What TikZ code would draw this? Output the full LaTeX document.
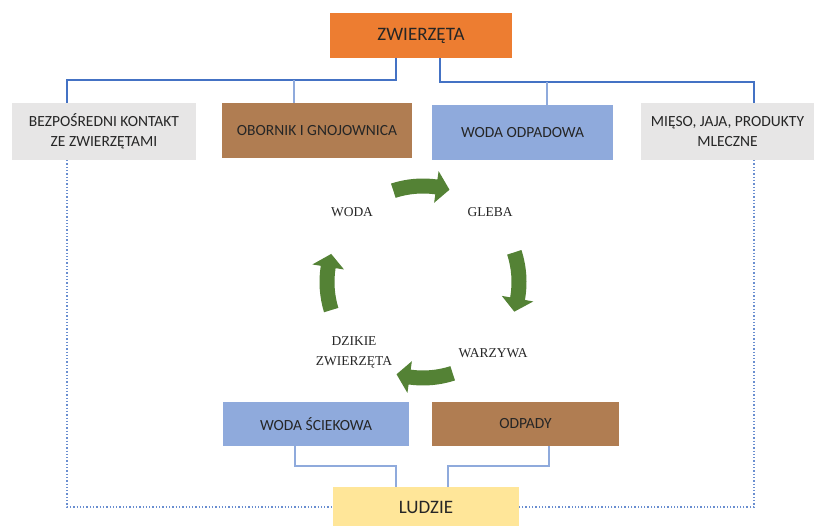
\documentclass[tikz,border=0pt]{standalone}
\usepackage{fontspec}
\setmainfont{Carlito}
\newfontfamily\cycfont{Liberation Serif}
\definecolor{zworange}{HTML}{ED7D31}
\definecolor{zwbrown}{HTML}{B07D52}
\definecolor{zwgray}{HTML}{E7E6E6}
\definecolor{zwblue}{HTML}{8FAADC}
\definecolor{zwyellow}{HTML}{FFE699}
\definecolor{zwgreen}{HTML}{548235}
\definecolor{zwline}{HTML}{4472C4}
\definecolor{zwtext}{HTML}{262626}
\newcommand\cycarrow[2]{%
  \fill[zwgreen,shift={(C)}] (#1:103.5) arc[start angle=#1,end angle=#2-8,radius=103.5]
    -- (#2-8:112) -- (#2:96) -- (#2-8:80) -- (#2-8:88.5)
    arc[start angle=#2-8,end angle=#1,radius=88.5] -- cycle;}
\begin{document}
\begin{tikzpicture}[x=1pt,y=-1pt,
  box/.style={inner sep=0pt, align=center, text=zwtext, font=\fontsize{15.5}{20}\selectfont},
  bigbox/.style={box, font=\fontsize{19}{22}\selectfont},
  cyc/.style={inner sep=0pt, align=center, text=zwtext, font=\cycfont\fontsize{13.5}{20}\selectfont},
  mainline/.style={draw=zwline, line width=2.2pt},
  branch/.style={draw=zwblue, line width=1.6pt},
  dotline/.style={draw=zwline!80, line width=1.3pt, dotted}]
\useasboundingbox (0,0) rectangle (814,526);
\fill[white] (0,0) rectangle (814,526);
% top
\node[bigbox, fill=zworange, minimum width=182, minimum height=45] (zw) at (421,35.5) {ZWIERZĘTA};
\node[box, fill=zwgray, minimum width=184, minimum height=57] (bez) at (104,131.5) {BEZPOŚREDNI KONTAKT\\ZE ZWIERZĘTAMI};
\node[box, fill=zwbrown, minimum width=190, minimum height=55] (obornik) at (317,130.5) {OBORNIK I GNOJOWNICA};
\node[box, fill=zwblue, minimum width=181, minimum height=55] (woda) at (522.5,132.5) {WODA ODPADOWA};
\node[box, fill=zwgray, minimum width=173, minimum height=57] (mieso) at (727.5,131.5) {MIĘSO, JAJA, PRODUKTY\\MLECZNE};
% bottom
\node[box, fill=zwblue, minimum width=186, minimum height=44] (wsciek) at (316,424) {WODA ŚCIEKOWA};
\node[box, fill=zwbrown, minimum width=187, minimum height=44] (odpady) at (525.5,424) {ODPADY};
\node[bigbox, fill=zwyellow, minimum width=186, minimum height=40] (ludzie) at (426,507) {LUDZIE};
% connectors top
\draw[mainline] ([xshift=-25]zw.south) -- ++(0,22) -| ([xshift=-37]bez.north);
\draw[branch] ([xshift=-23]obornik.north) -- ++(0,-23);
\draw[mainline] ([xshift=19]zw.south) -- ++(0,24) -| ([xshift=26.5]mieso.north);
\draw[branch] ([xshift=24.5]woda.north) -- ++(0,-23);
% dotted
\draw[dotline] ([xshift=-37]bez.south) |- (ludzie.west);
\draw[dotline] ([xshift=26.5]mieso.south) |- (ludzie.east);
% bottom connectors
\draw[branch] ([xshift=-21]wsciek.south) -- ++(0,20) -| ([xshift=-30]ludzie.north);
\draw[branch] ([xshift=23.5]odpady.south) -- ++(0,20) -| ([xshift=22]ludzie.north);
% cycle
\coordinate (C) at (423,282);
\node[cyc] (cwoda) at (352,212) {WODA};
\node[cyc] (cgleba) at (490,212) {GLEBA};
\node[cyc] (cwarz) at (493,353) {WARZYWA};
\node[cyc] (cdzik) at (354,352) {DZIKIE\\ZWIERZĘTA};
\cycarrow{252}{286}
\cycarrow{-18}{18}
\cycarrow{72}{106}
\cycarrow{163}{197}
\end{tikzpicture}
\end{document}
